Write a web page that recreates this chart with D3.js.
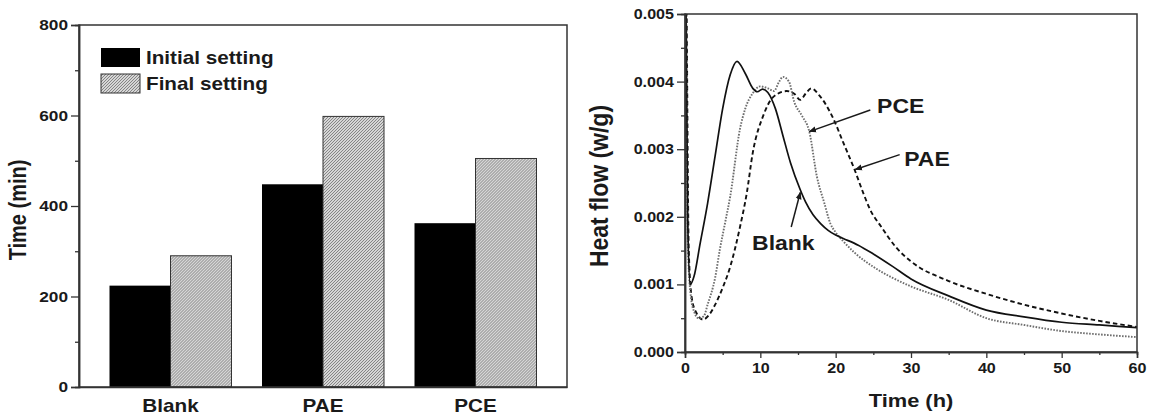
<!DOCTYPE html>
<html>
<head>
<meta charset="utf-8">
<script src="https://cdn.jsdelivr.net/npm/d3@7"></script>
<style>
  body { margin: 0; background: #fff; }
  svg text { font-family: "Liberation Sans", Arial, sans-serif; font-weight: bold; fill: #1a1a1a; }
  .wide { transform-box: fill-box; transform-origin: center; transform: scale(1.15, 1); }
  .wideL { transform-box: fill-box; transform-origin: left center; transform: scale(1.15, 1); }
  .wideR { transform-box: fill-box; transform-origin: right center; transform: scale(1.15, 1); }
  .wideV { transform-box: fill-box; transform-origin: center; transform: rotate(-90deg) scale(1, 1.15); }
</style>
</head>
<body>
<svg id="chart" width="1153" height="416"></svg>
<script>
// ---- bar chart data
const categories = ["Blank", "PAE", "PCE"];
const settings = ["Initial setting", "Final setting"];
const initialSetting = [224, 448, 362];
const finalSetting = [290, 598, 505];
const timeTicks = [0, 200, 400, 600, 800];

// ---- heat flow curves (time in h, heat flow in w/g)
const blankT = [0.1, 0.35, 0.7, 1.2, 2, 3, 4, 5, 6, 6.9, 8, 9, 9.6, 10.3, 11, 12, 13, 14, 15.3, 16, 17, 18, 19, 20, 21, 23, 25, 27.5, 30, 35, 40, 45, 50, 55, 60];
const blankQ = [0.0056, 0.002, 0.001, 0.00112, 0.0016, 0.0022, 0.0029, 0.0036, 0.0041, 0.0043, 0.00412, 0.0039, 0.00385, 0.00389, 0.00384, 0.0036, 0.0032, 0.0028, 0.0024, 0.00222, 0.00203, 0.0019, 0.0018, 0.00173, 0.00168, 0.00158, 0.00145, 0.00127, 0.00108, 0.00083, 0.00062, 0.00052, 0.00044, 0.0004, 0.00036];
const pceT = [0.15, 0.4, 0.8, 1.2, 1.8, 2.5, 3, 4, 4.6, 5.3, 6, 7.3, 8, 9, 10, 11, 11.8, 12.5, 13, 13.8, 14.5, 15.5, 16.5, 17.5, 18.5, 19.3, 20, 21, 22.5, 25, 27.5, 30, 35, 40, 45, 50, 55, 60];
const pceQ = [0.0056, 0.0015, 0.0008, 0.0006, 0.0005, 0.00053, 0.0007, 0.0011, 0.0015, 0.0019, 0.0023, 0.0033, 0.0036, 0.00383, 0.00393, 0.0039, 0.00386, 0.004, 0.00407, 0.004, 0.0037, 0.0035, 0.00326, 0.0026, 0.0022, 0.0019, 0.00177, 0.00164, 0.00147, 0.00126, 0.0011, 0.00097, 0.00077, 0.0005, 0.0004, 0.00031, 0.00026, 0.00022];
const paeT = [0.2, 0.5, 0.9, 1.5, 2.4, 3.2, 4, 5, 6, 7.3, 8.2, 9, 10.4, 11.7, 13.5, 14.5, 15.3, 16, 16.8, 17.8, 19.7, 21, 22.5, 23.5, 24.6, 26, 28, 30, 35, 40, 45, 50, 55, 60];
const paeQ = [0.0056, 0.0015, 0.0008, 0.00058, 0.00048, 0.00055, 0.0007, 0.00095, 0.00126, 0.00185, 0.00235, 0.00295, 0.0035, 0.00377, 0.00386, 0.00382, 0.00373, 0.00382, 0.0039, 0.0038, 0.00345, 0.0031, 0.0027, 0.0024, 0.0021, 0.00186, 0.00155, 0.00134, 0.00105, 0.00086, 0.0007, 0.00057, 0.00046, 0.00037];
const heatTicks = [0, 0.001, 0.002, 0.003, 0.004, 0.005];
const hourTicks = [0, 10, 20, 30, 40, 50, 60];

const svg = d3.select("#chart");
const ink = "#1a1a1a";

// hatch pattern for final setting
const defs = svg.append("defs");
const pat = defs.append("pattern")
    .attr("id", "hatch")
    .attr("patternUnits", "userSpaceOnUse")
    .attr("width", 3).attr("height", 3);
pat.append("rect").attr("width", 3).attr("height", 3).attr("fill", "#d6d6d6");
pat.append("path")
    .attr("d", "M-1,1 L1,-1 M0,3 L3,0 M2,4 L4,2")
    .attr("stroke", "#7c7c7c").attr("stroke-width", 0.9);

defs.append("clipPath").attr("id", "clipR")
  .append("rect").attr("x", 685).attr("y", 14).attr("width", 452).attr("height", 338);

defs.append("marker")
    .attr("id", "arrow")
    .attr("viewBox", "0 0 10 10")
    .attr("refX", 9).attr("refY", 5)
    .attr("markerWidth", 5).attr("markerHeight", 5)
    .attr("orient", "auto")
  .append("path").attr("d", "M0,1 L10,5 L0,9 Z").attr("fill", ink);

// ================= left: bar chart
const L = {left: 79, right: 567, top: 25, bottom: 387};

const x0 = d3.scaleBand().domain(categories).range([L.left, L.right]).padding(0.2);
const x1 = d3.scaleBand().domain(settings).range([0, x0.bandwidth()]);
const yT = d3.scaleLinear().domain([0, 800]).range([L.bottom, L.top]);

const left = svg.append("g");

const groups = left.selectAll("g.grp")
  .data(categories)
  .join("g")
    .attr("class", "grp")
    .attr("transform", d => "translate(" + x0(d) + ",0)");

groups.append("rect")
    .attr("x", x1("Initial setting"))
    .attr("y", (d, i) => yT(initialSetting[i]))
    .attr("width", x1.bandwidth())
    .attr("height", (d, i) => L.bottom - yT(initialSetting[i]))
    .attr("fill", "#000");

groups.append("rect")
    .attr("x", x1("Final setting"))
    .attr("y", (d, i) => yT(finalSetting[i]))
    .attr("width", x1.bandwidth())
    .attr("height", (d, i) => L.bottom - yT(finalSetting[i]))
    .attr("fill", "url(#hatch)")
    .attr("stroke", "#333").attr("stroke-width", 1);

// frame
left.append("rect")
    .attr("x", L.left).attr("y", L.top)
    .attr("width", L.right - L.left).attr("height", L.bottom - L.top)
    .attr("fill", "none").attr("stroke", "#333").attr("stroke-width", 1.5);

const yAxisL = left.append("g")
    .attr("transform", "translate(" + L.left + ",0)")
    .call(d3.axisLeft(yT).tickValues(timeTicks).tickSize(8).tickPadding(3));
left.append("g")
    .attr("transform", "translate(" + L.left + ",0)")
    .call(d3.axisLeft(yT).tickValues([100, 300, 500, 700]).tickSize(4).tickFormat(""));

const xAxisL = left.append("g")
    .attr("transform", "translate(0," + L.bottom + ")")
    .call(d3.axisBottom(x0).tickSize(0).tickPadding(12));

yAxisL.selectAll("text").attr("font-size", 15).attr("class", "wideR");
xAxisL.selectAll("text").attr("font-size", 18).attr("class", "wide");

left.append("text")
    .attr("class", "wideV")
    .attr("x", 18).attr("y", 210)
    .attr("text-anchor", "middle").attr("dominant-baseline", "central")
    .attr("font-size", 20)
    .text("Time (min)");

// legend
const legend = left.append("g");
legend.append("rect").attr("x", 101).attr("y", 48).attr("width", 39).attr("height", 19)
    .attr("fill", "#000");
legend.append("rect").attr("x", 101).attr("y", 74).attr("width", 39).attr("height", 19)
    .attr("fill", "url(#hatch)").attr("stroke", "#333");
legend.selectAll("text.lg")
  .data(settings)
  .join("text")
    .attr("class", "wideL")
    .attr("x", 146).attr("y", (d, i) => 64 + i * 26)
    .attr("font-size", 18)
    .text(d => d);

// ================= right: heat flow
const R = {left: 685, right: 1137, top: 14, bottom: 352};
const xH = d3.scaleLinear().domain([0, 60]).range([R.left, R.right]);
const yH = d3.scaleLinear().domain([0, 0.005]).range([R.bottom, R.top]);

const right = svg.append("g");

const line = d3.line()
    .x(d => xH(d[0]))
    .y(d => yH(d[1]))
    .curve(d3.curveMonotoneX);

const series = [
  {name: "PAE", t: paeT, q: paeQ, stroke: "#111", dash: "4.5,3", width: 1.9},
  {name: "PCE", t: pceT, q: pceQ, stroke: "#6e6e6e", dash: "1.6,1.4", width: 1.9},
  {name: "Blank", t: blankT, q: blankQ, stroke: "#111", dash: null, width: 1.7}
];

right.append("g").attr("clip-path", "url(#clipR)")
  .selectAll("path")
  .data(series)
  .join("path")
    .attr("d", s => line(s.t.map((t, i) => [t, s.q[i]])))
    .attr("fill", "none")
    .attr("stroke", s => s.stroke)
    .attr("stroke-width", s => s.width)
    .attr("stroke-dasharray", s => s.dash);

right.append("rect")
    .attr("x", R.left).attr("y", R.top)
    .attr("width", R.right - R.left).attr("height", R.bottom - R.top)
    .attr("fill", "none").attr("stroke", "#333").attr("stroke-width", 1.5);

const yAxisR = right.append("g")
    .attr("transform", "translate(" + R.left + ",0)")
    .call(d3.axisLeft(yH).tickValues(heatTicks).tickSize(8).tickPadding(3).tickFormat(d3.format(".3f")));
right.append("g")
    .attr("transform", "translate(" + R.left + ",0)")
    .call(d3.axisLeft(yH).tickValues([0.0005, 0.0015, 0.0025, 0.0035, 0.0045]).tickSize(4).tickFormat(""));

const xAxisR = right.append("g")
    .attr("transform", "translate(0," + R.bottom + ")")
    .call(d3.axisBottom(xH).tickValues(hourTicks).tickSize(6).tickPadding(5));
right.append("g")
    .attr("transform", "translate(0," + R.bottom + ")")
    .call(d3.axisBottom(xH).tickValues([5, 15, 25, 35, 45, 55]).tickSize(3).tickFormat(""));

yAxisR.selectAll("text").attr("font-size", 14).attr("class", "wideR");
xAxisR.selectAll("text").attr("font-size", 14).attr("class", "wide");

right.append("text")
    .attr("class", "wideV")
    .attr("x", 599).attr("y", 186)
    .attr("text-anchor", "middle").attr("dominant-baseline", "central")
    .attr("font-size", 23)
    .text("Heat flow (w/g)");

right.append("text")
    .attr("class", "wide")
    .attr("x", (R.left + R.right) / 2).attr("y", 407)
    .attr("text-anchor", "middle")
    .attr("font-size", 19)
    .text("Time (h)");

// annotations: label position [t, q], arrow from [t, q] to [t, q]
const notes = [
  {label: "PCE", at: [25.5, 0.00364], from: [24.6, 0.00358], to: [16.5, 0.00326]},
  {label: "PAE", at: [29.1, 0.00286], from: [28.5, 0.00292], to: [22.6, 0.0027]},
  {label: "Blank", at: [8.9, 0.00161], from: [14.1, 0.00185], to: [15.3, 0.00236]}
];

right.selectAll("line.note")
  .data(notes)
  .join("line")
    .attr("class", "note")
    .attr("x1", d => xH(d.from[0])).attr("y1", d => yH(d.from[1]))
    .attr("x2", d => xH(d.to[0])).attr("y2", d => yH(d.to[1]))
    .attr("stroke", ink).attr("stroke-width", 1.5)
    .attr("marker-end", "url(#arrow)");

right.selectAll("text.note")
  .data(notes)
  .join("text")
    .attr("class", "wideL")
    .attr("x", d => xH(d.at[0])).attr("y", d => yH(d.at[1]))
    .attr("dominant-baseline", "central")
    .attr("font-size", 20)
    .text(d => d.label);

// shared axis styling
svg.selectAll(".domain").attr("stroke", "#333").attr("stroke-width", 1.5);
svg.selectAll(".tick line").attr("stroke", "#333").attr("stroke-width", 1.3);
svg.selectAll(".tick text").attr("fill", ink);
</script>
</body>
</html>
